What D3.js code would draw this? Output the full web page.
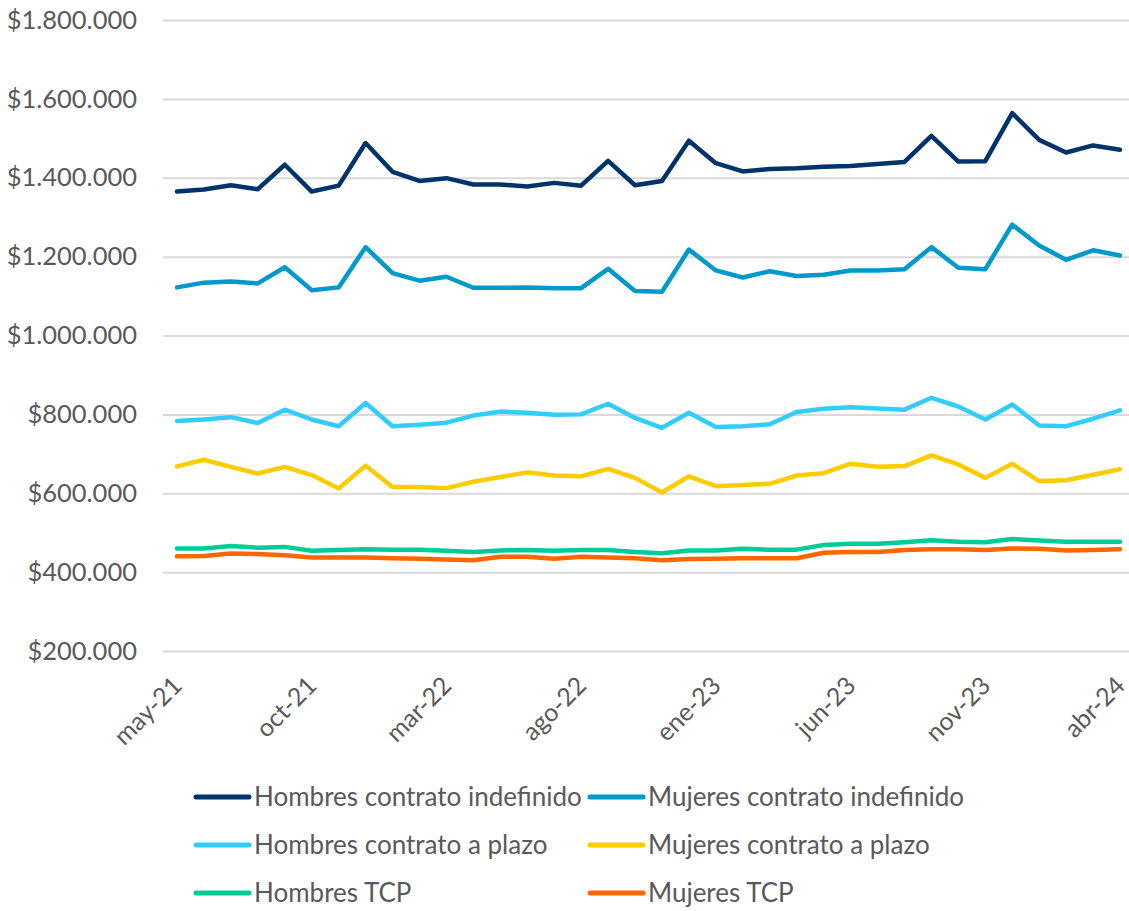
<!DOCTYPE html>
<html>
<head>
<meta charset="utf-8">
<script src="https://cdn.jsdelivr.net/npm/d3@7"></script>
<style>
  body { margin: 0; background: #fff; }
  text { font-family: Lato, "Open Sans", sans-serif; fill: #595959; }
</style>
</head>
<body>
<div id="chart"></div>
<script>
// month labels, may-21 .. abr-24
const months = ["may-21","jun-21","jul-21","ago-21","sept-21","oct-21","nov-21","dic-21","ene-22","feb-22",
  "mar-22","abr-22","may-22","jun-22","jul-22","ago-22","sept-22","oct-22","nov-22","dic-22",
  "ene-23","feb-23","mar-23","abr-23","may-23","jun-23","jul-23","ago-23","sept-23","oct-23",
  "nov-23","dic-23","ene-24","feb-24","mar-24","abr-24"];

const hombresIndef = [1365000,1370000,1381000,1371000,1433000,1365000,1380000,1488000,1415000,1392000,
  1399000,1383000,1383000,1378000,1387000,1380000,1443000,1381000,1392000,1494000,
  1437000,1416000,1422000,1424000,1428000,1430000,1435000,1440000,1506000,1441000,
  1442000,1564000,1496000,1464000,1482000,1471000];
const mujeresIndef = [1122000,1134000,1137000,1132000,1173000,1115000,1122000,1224000,1158000,1139000,
  1149000,1121000,1121000,1122000,1120000,1120000,1169000,1113000,1111000,1218000,
  1165000,1147000,1163000,1151000,1154000,1165000,1165000,1168000,1224000,1172000,
  1168000,1281000,1228000,1192000,1216000,1203000];
const hombresPlazo = [783000,787000,793000,778000,812000,787000,770000,829000,770000,774000,
  779000,797000,807000,804000,799000,800000,827000,791000,766000,804000,
  768000,770000,775000,806000,814000,818000,815000,812000,842000,820000,
  787000,825000,772000,770000,789000,810000];
const mujeresPlazo = [668000,685000,667000,650000,667000,646000,612000,670000,616000,616000,
  613000,629000,641000,653000,645000,643000,662000,639000,602000,643000,
  618000,621000,624000,645000,651000,675000,667000,669000,696000,673000,
  639000,675000,631000,633000,647000,661000];
const hombresTCP = [460000,460000,466000,462000,464000,454000,456000,458000,457000,457000,
  454000,451000,455000,456000,454000,456000,456000,451000,448000,455000,
  455000,459000,457000,457000,469000,472000,472000,476000,481000,477000,
  476000,484000,480000,477000,477000,477000];
const mujeresTCP = [440000,441000,447000,446000,443000,437000,437000,437000,435000,434000,
  432000,430000,439000,439000,434000,439000,437000,435000,430000,433000,
  434000,435000,435000,435000,449000,451000,451000,456000,458000,458000,
  456000,460000,459000,455000,456000,458000];

const seriesNames = ["Hombres contrato indefinido","Mujeres contrato indefinido",
  "Hombres contrato a plazo","Mujeres contrato a plazo","Hombres TCP","Mujeres TCP"];
const seriesValues = [hombresIndef, mujeresIndef, hombresPlazo, mujeresPlazo, hombresTCP, mujeresTCP];
const colors = ["#00336A","#0099CC","#33CCFF","#FFCC00","#00CC99","#FF6600"];

const yTicks = [200000,400000,600000,800000,1000000,1200000,1400000,1600000,1800000];
const xTickLabels = ["may-21","oct-21","mar-22","ago-22","ene-23","jun-23","nov-23","abr-24"];

function whyChart() {
  let width = 1129, height = 911;

  let svg = d3.select("#chart")
    .append("svg")
    .attr("width", width)
    .attr("height", height);

  // x scale over month index
  let x = d3.scalePoint()
    .domain(months)
    .range([177, 1120]);

  let y = d3.scaleLinear()
    .domain([200000, 1800000])
    .range([651, 20]);

  let fmt = v => "$" + d3.format(",")(v).replace(/,/g, ".");

  // gridlines + y labels
  let yAxis = svg.append("g")
    .attr("transform", "translate(163,0)")
    .call(d3.axisLeft(y).tickValues(yTicks).tickSize(-(width - 163)).tickPadding(26).tickFormat(fmt));
  yAxis.select(".domain").remove();
  yAxis.selectAll(".tick line").attr("stroke", "#d9d9d9").attr("stroke-width", 2);
  yAxis.selectAll(".tick text")
    .style("font-family", "Lato, 'Open Sans', sans-serif")
    .style("font-size", "25.5px")
    .attr("fill", "#595959");

  // x labels, rotated
  let xAxis = svg.append("g")
    .attr("transform", "translate(0,651)")
    .call(d3.axisBottom(x).tickValues(xTickLabels).tickSize(0));
  xAxis.select(".domain").remove();
  xAxis.selectAll(".tick text")
    .style("font-family", "Lato, 'Open Sans', sans-serif")
    .style("font-size", "25px")
    .attr("fill", "#595959")
    .attr("text-anchor", "end")
    .attr("dy", 0)
    .attr("transform", "translate(4,34) rotate(-45)");

  // lines
  let line = d3.line()
    .x((d, i) => x(months[i]))
    .y(d => y(d));

  seriesValues.forEach(function(vals, k) {
    svg.append("path")
      .datum(vals)
      .attr("fill", "none")
      .attr("stroke", colors[k])
      .attr("stroke-width", 4.5)
      .attr("stroke-linejoin", "round")
      .attr("stroke-linecap", "round")
      .attr("d", line);
  });

  // legend
  let legend = svg.append("g");
  seriesNames.forEach(function(name, k) {
    let col = k % 2, row = Math.floor(k / 2);
    let lx = 196 + col * 394, ly = 797 + row * 48;
    legend.append("line")
      .attr("x1", lx).attr("x2", lx + 53)
      .attr("y1", ly).attr("y2", ly)
      .attr("stroke", colors[k])
      .attr("stroke-width", 5)
      .attr("stroke-linecap", "round");
    legend.append("text")
      .attr("x", lx + 58)
      .attr("y", ly + 9)
      .style("font-size", "26px")
      .text(name);
  });
}

whyChart();
</script>
</body>
</html>
